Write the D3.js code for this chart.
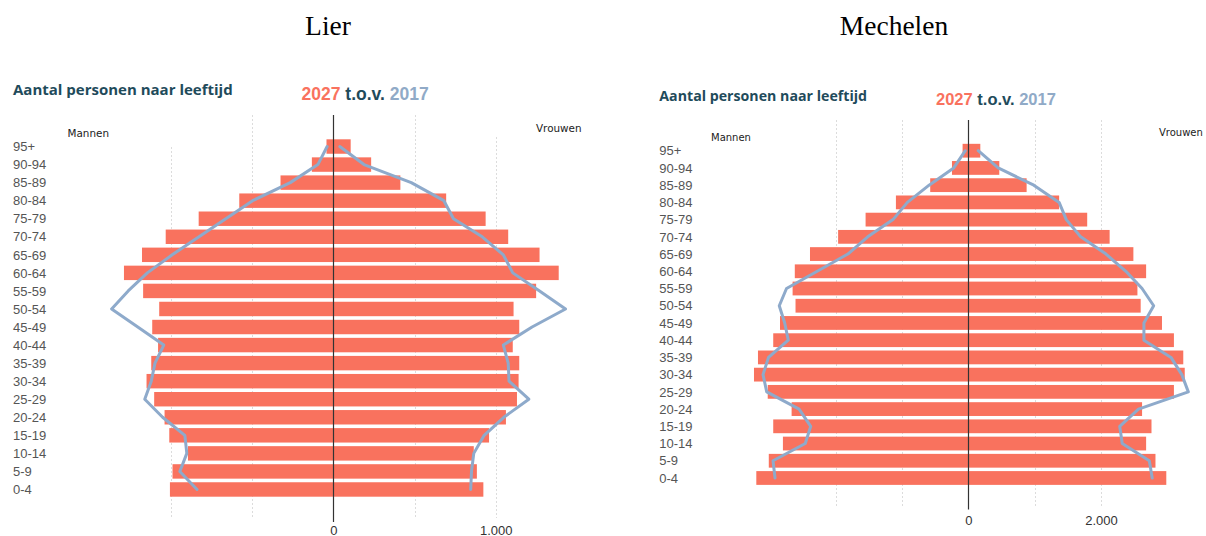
<!DOCTYPE html>
<html>
<head>
<meta charset="utf-8">
<script src="https://cdn.jsdelivr.net/npm/d3@7"></script>
<style>
  html, body { margin: 0; padding: 0; background: #fff; }
  svg { display: block; }
</style>
</head>
<body>
<svg id="chart" width="1206" height="536"></svg>
<script>
// ---------- DATA (age groups from 0-4 up to 95+) ----------
const ageGroups = ["0-4","5-9","10-14","15-19","20-24","25-29","30-34","35-39","40-44","45-49",
                   "50-54","55-59","60-64","65-69","70-74","75-79","80-84","85-89","90-94","95+"];

const panelTitles = ["Lier", "Mechelen"];
const chartTitle = "Aantal personen naar leeftijd";
const yearNew = "2027";
const yearSep = " t.o.v. ";
const yearOld = "2017";
const labelMen = "Mannen";
const labelWomen = "Vrouwen";

// Lier
const lierMen2027   = [1006, 990, 895, 1010, 1039, 1103, 1150, 1121, 1079, 1115, 1072, 1171, 1289, 1178, 1032, 829, 579, 325, 132, 42];
const lierWomen2027 = [924, 884, 865, 959, 1063, 1131, 1141, 1145, 1105, 1145, 1110, 1249, 1388, 1270, 1077, 938, 695, 413, 233, 107];
const lierMen2017   = [839, 945, 902, 914, 1051, 1161, 1121, 1098, 1044, 1204, 1365, 1263, 1145, 992, 827, 662, 497, 265, 95, 38];
const lierWomen2017 = [846, 851, 865, 929, 1050, 1204, 1082, 1077, 1047, 1224, 1430, 1270, 1105, 1047, 917, 740, 681, 480, 189, 40];
const lierTicks = [0, 1000];
const lierGrid = [-1000, -500, 500, 1000];

// Mechelen
const mechMen2027   = [3195, 3007, 2794, 2940, 2663, 3023, 3230, 3170, 2940, 2838, 2604, 2648, 2615, 2386, 1962, 1548, 1091, 574, 246, 86];
const mechWomen2027 = [2984, 2821, 2680, 2761, 2619, 3099, 3262, 3240, 3099, 2919, 2598, 2549, 2680, 2488, 2130, 1792, 1369, 879, 467, 181];
const mechMen2017   = [2913, 2943, 2457, 2375, 2550, 3038, 3094, 3011, 2713, 2767, 2849, 2740, 2277, 1815, 1516, 1135, 918, 591, 220, 45];
const mechWomen2017 = [2772, 2728, 2320, 2282, 2565, 3316, 3218, 3055, 2647, 2647, 2794, 2619, 2375, 2075, 1694, 1477, 1369, 987, 450, 150];
const mechTicks = [0, 2000];
const mechGrid = [-2000, -1000, 1000, 2000];

// ---------- STYLE ----------
const barColor = "#f9725e";
const lineColor = "#8eaacb";
const titleColor = "#1f4b5b";
const oldColor = "#90aac7";

const nlFormat = d3.formatLocale({decimal: ",", thousands: ".", grouping: [3], currency: ["€", ""]}).format(",");

const svg = d3.select("#chart");

function drawPanel(p) {
  const g = svg.append("g");

  // City title (serif)
  g.append("text")
    .attr("x", p.cityX).attr("y", 35)
    .attr("text-anchor", "middle")
    .style("font-family", "'Liberation Serif', 'DejaVu Serif', serif")
    .style("font-size", "27.5px")
    .attr("fill", "#000")
    .text(p.city);

  // Chart title
  g.append("text")
    .attr("x", p.titleX).attr("y", p.titleY)
    .style("font-family", "'Open Sans', sans-serif")
    .style("font-weight", "700")
    .style("font-size", p.titleSize + "px")
    .attr("fill", titleColor)
    .text(chartTitle);

  // "2027 t.o.v. 2017"
  const sub = g.append("text")
    .attr("x", p.subX).attr("y", p.subY)
    .style("font-family", "'Liberation Sans', Arial, sans-serif")
    .style("font-weight", "700")
    .style("font-size", p.subSize + "px");
  sub.append("tspan").attr("fill", barColor).text(yearNew);
  sub.append("tspan").attr("fill", titleColor).style("white-space", "pre").text(yearSep);
  sub.append("tspan").attr("fill", oldColor).text(yearOld);

  // Scales
  const x = d3.scaleLinear()
    .domain([-p.unit, p.unit])
    .range([p.center - p.pxPerUnit, p.center + p.pxPerUnit]);
  const y = d3.scaleBand()
    .domain(ageGroups.slice().reverse())
    .range([p.bandTop, p.bandBottom])
    .paddingInner(0.2)
    .paddingOuter(0.1);
  const bw = y.bandwidth();

  // Gridlines
  g.append("g").selectAll("line")
    .data(p.grid)
    .join("line")
    .attr("x1", d => Math.round(x(d)) + 0.5)
    .attr("x2", d => Math.round(x(d)) + 0.5)
    .attr("y1", d => p.gridTopFn(d))
    .attr("y2", p.gridBottom)
    .attr("stroke", "#dcdcdc")
    .attr("stroke-width", 1)
    .attr("stroke-dasharray", "2,2");

  // Men bars (left)
  g.append("g").selectAll("rect")
    .data(ageGroups.map((a, i) => ({age: a, v: p.men[i]})))
    .join("rect")
    .attr("x", d => x(-d.v))
    .attr("y", d => y(d.age))
    .attr("width", d => x(0) - x(-d.v))
    .attr("height", bw)
    .attr("fill", barColor);

  // Women bars (right)
  g.append("g").selectAll("rect")
    .data(ageGroups.map((a, i) => ({age: a, v: p.women[i]})))
    .join("rect")
    .attr("x", x(0))
    .attr("y", d => y(d.age))
    .attr("width", d => x(d.v) - x(0))
    .attr("height", bw)
    .attr("fill", barColor);

  // Center axis line
  g.append("line")
    .attr("x1", Math.round(x(0)) + 0.5).attr("x2", Math.round(x(0)) + 0.5)
    .attr("y1", p.gridTop).attr("y2", p.axisBottom)
    .attr("stroke", "#333").attr("stroke-width", 1.2);

  // 2017 lines
  const lineMen = d3.line()
    .x(d => x(-d.v))
    .y(d => y(d.age) + bw / 2);
  const lineWomen = d3.line()
    .x(d => x(d.v))
    .y(d => y(d.age) + bw / 2);

  g.append("path")
    .datum(ageGroups.map((a, i) => ({age: a, v: p.men17[i]})))
    .attr("d", lineMen)
    .attr("fill", "none").attr("stroke", lineColor)
    .attr("stroke-width", 3).attr("stroke-linejoin", "round").attr("stroke-linecap", "round");
  g.append("path")
    .datum(ageGroups.map((a, i) => ({age: a, v: p.women17[i]})))
    .attr("d", lineWomen)
    .attr("fill", "none").attr("stroke", lineColor)
    .attr("stroke-width", 3).attr("stroke-linejoin", "round").attr("stroke-linecap", "round");

  // Age labels
  g.append("g").selectAll("text")
    .data(ageGroups)
    .join("text")
    .attr("x", p.ageX)
    .attr("y", d => y(d) + bw / 2)
    .attr("dy", "0.36em")
    .style("font-family", "'Liberation Sans', Arial, sans-serif")
    .style("font-size", "13px")
    .attr("fill", "#555")
    .text(d => d);

  // Mannen / Vrouwen
  g.append("text")
    .attr("x", p.menX).attr("y", p.menY)
    .style("font-family", "'DejaVu Sans', Verdana, sans-serif")
    .style("font-size", p.mvSize + "px")
    .attr("fill", "#222")
    .text(labelMen);
  g.append("text")
    .attr("x", p.womenX).attr("y", p.womenY)
    .style("font-family", "'DejaVu Sans', Verdana, sans-serif")
    .style("font-size", p.mvSize + "px")
    .attr("fill", "#222")
    .text(labelWomen);

  // Bottom tick labels
  const axis = d3.axisBottom(x).tickValues(p.ticks).tickSize(0).tickFormat(nlFormat);
  const ax = g.append("g")
    .attr("transform", `translate(0,${p.tickY})`)
    .call(axis);
  ax.select(".domain").remove();
  ax.selectAll("text")
    .attr("y", 0).attr("dy", 0)
    .style("font-family", "'Liberation Sans', Arial, sans-serif")
    .style("font-size", "13px")
    .attr("fill", "#333");
}

drawPanel({
  city: panelTitles[0], cityX: 328,
  titleX: 13, titleY: 95, titleSize: 15,
  subX: 301.5, subY: 99.5, subSize: 17.5,
  menX: 67.5, menY: 137, womenX: 536, womenY: 131.7, mvSize: 10.4,
  ageX: 13,
  center: 333.3, unit: 1000, pxPerUnit: 162.4,
  bandTop: 137.5, bandBottom: 498.5,
  grid: lierGrid, gridTop: 115, gridBottom: 518, axisBottom: 522,
  gridTopFn: d => d === -1000 ? 147 : (d === 1000 ? 137 : 115),
  ticks: lierTicks, tickY: 534.5,
  men: lierMen2027, women: lierWomen2027, men17: lierMen2017, women17: lierWomen2017
});

drawPanel({
  city: panelTitles[1], cityX: 894,
  titleX: 659.3, titleY: 100.7, titleSize: 14.2,
  subX: 936, subY: 105, subSize: 16.5,
  menX: 711, menY: 141, womenX: 1159, womenY: 135.7, mvSize: 10,
  ageX: 659.3,
  center: 968.3, unit: 2000, pxPerUnit: 132.7,
  bandTop: 142.1, bandBottom: 486.6,
  grid: mechGrid, gridTop: 120, gridBottom: 506, axisBottom: 509.5,
  gridTopFn: d => 120,
  ticks: mechTicks, tickY: 524.5,
  men: mechMen2027, women: mechWomen2027, men17: mechMen2017, women17: mechWomen2017
});
</script>
</body>
</html>
